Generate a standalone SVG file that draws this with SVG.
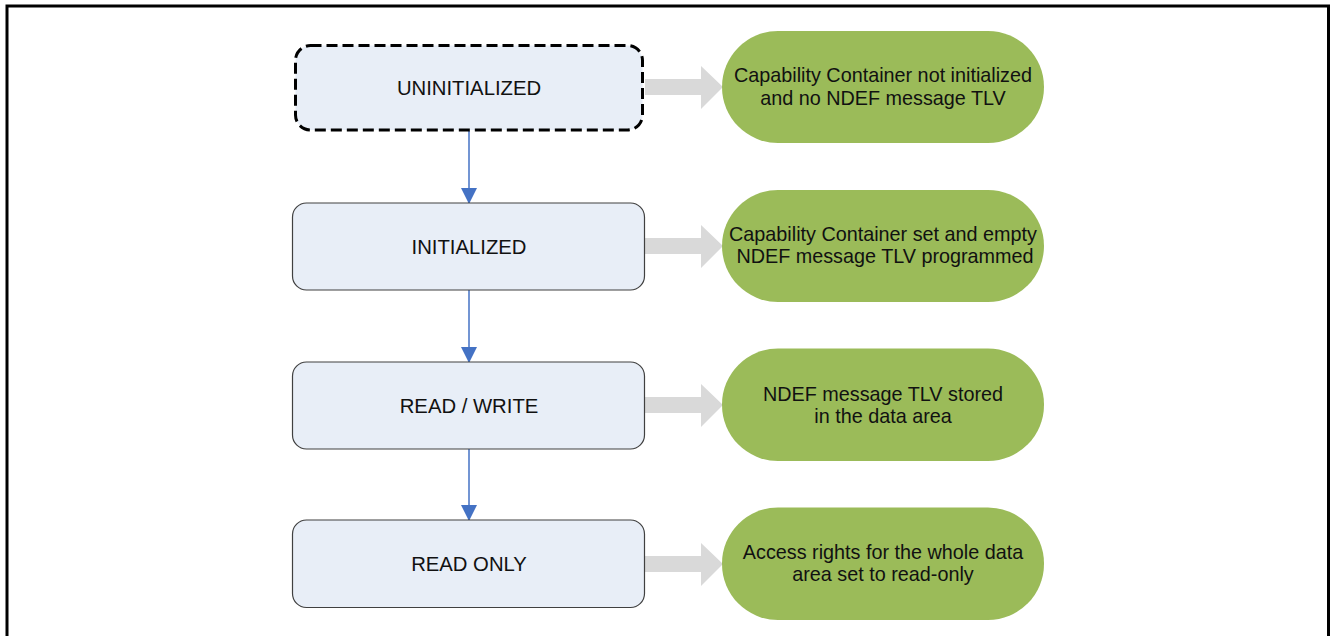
<svg xmlns="http://www.w3.org/2000/svg" width="1331" height="636" viewBox="0 0 1331 636">
  <defs>
    <style>
      .state { fill: #E8EEF7; stroke: #404040; stroke-width: 1.2; }
      .state-dashed { fill: #E8EEF7; stroke: #000000; stroke-width: 3; stroke-dasharray: 11 5; }
      .state-label { font-family: "Liberation Sans", Arial, sans-serif; font-size: 20.3px; fill: #111111; text-anchor: middle; }
      .desc { fill: #9BBB59; }
      .desc-label { font-family: "Liberation Sans", Arial, sans-serif; font-size: 19.8px; fill: #111111; text-anchor: middle; }
      .pointer { fill: #D9D9D9; }
      .flow { stroke: #4472C4; stroke-width: 1.5; fill: none; marker-end: url(#flowHead); }
    </style>
    <marker id="flowHead" markerUnits="userSpaceOnUse" markerWidth="16" markerHeight="18" refX="15" refY="8" orient="auto">
      <path d="M0,0 L16,8 L0,16 Z" fill="#4472C4"/>
    </marker>
  </defs>

  <rect width="1331" height="636" fill="#ffffff"/>
  <!-- outer frame -->
  <path d="M7,640 L7,6 L1328.5,6 L1328.5,640" fill="none" stroke="#000000" stroke-width="3"/>

  <!-- state transitions -->
  <g id="connectors">
    <line class="flow" x1="469" y1="131" x2="469" y2="203"/>
    <line class="flow" x1="469" y1="290" x2="469" y2="362"/>
    <line class="flow" x1="469" y1="449" x2="469" y2="520"/>
    <!-- wide gray pointers from states to their descriptions -->
    <path class="pointer" d="M645,79 L701,79 L701,66 L723,87 L701,109 L701,95 L645,95 Z"/>
    <path class="pointer" d="M645,238 L701,238 L701,225 L723,246 L701,268 L701,254 L645,254 Z"/>
    <path class="pointer" d="M645,397 L701,397 L701,384 L723,405 L701,427 L701,413 L645,413 Z"/>
    <path class="pointer" d="M645,556 L701,556 L701,543 L723,564 L701,586 L701,572 L645,572 Z"/>
  </g>

  <g id="uninitialized">
    <rect class="state-dashed" x="295.5" y="45.5" width="347" height="84.5" rx="15"/>
    <text class="state-label" x="469" y="94.5">UNINITIALIZED</text>
  </g>
  <g id="initialized">
    <rect class="state" x="292.5" y="203" width="352" height="87" rx="14"/>
    <text class="state-label" x="469" y="253.5">INITIALIZED</text>
  </g>
  <g id="read-write">
    <rect class="state" x="292.5" y="362" width="352" height="87" rx="14"/>
    <text class="state-label" x="469" y="412.5">READ / WRITE</text>
  </g>
  <g id="read-only">
    <rect class="state" x="292.5" y="520" width="352" height="87.5" rx="14"/>
    <text class="state-label" x="469" y="570.5">READ ONLY</text>
  </g>

  <g id="desc-uninitialized">
    <rect class="desc" x="722" y="31" width="322" height="112" rx="56"/>
    <text class="desc-label" x="883" y="82">Capability Container not initialized</text>
    <text class="desc-label" x="883" y="104.5">and no NDEF message TLV</text>
  </g>
  <g id="desc-initialized">
    <rect class="desc" x="722" y="190" width="322" height="112" rx="56"/>
    <text class="desc-label" x="883" y="241">Capability Container set and empty</text>
    <text class="desc-label" x="885" y="262.5">NDEF message TLV programmed</text>
  </g>
  <g id="desc-read-write">
    <rect class="desc" x="722" y="348.5" width="322" height="112.5" rx="56"/>
    <text class="desc-label" x="883" y="400.5">NDEF message TLV stored</text>
    <text class="desc-label" x="883" y="422.5">in the data area</text>
  </g>
  <g id="desc-read-only">
    <rect class="desc" x="722" y="507.5" width="322" height="112.5" rx="56"/>
    <text class="desc-label" x="883" y="559">Access rights for the whole data</text>
    <text class="desc-label" x="883" y="581">area set to read-only</text>
  </g>
</svg>
